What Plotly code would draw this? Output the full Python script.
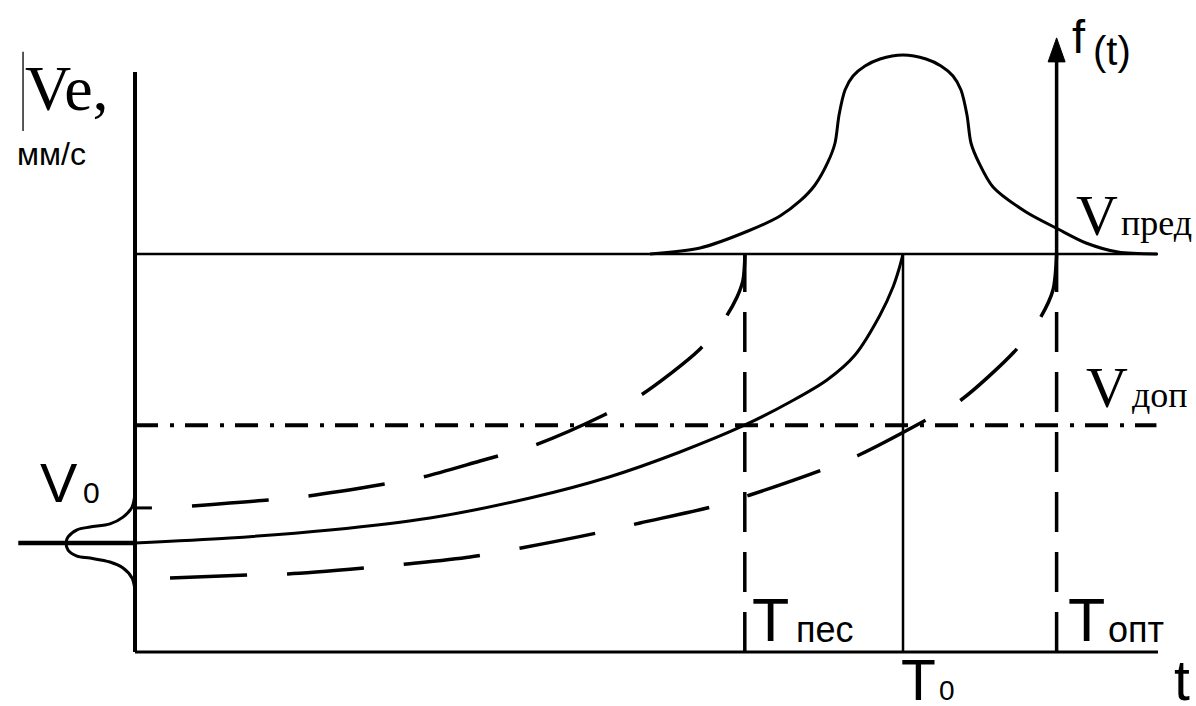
import plotly.graph_objects as go

# ---- coordinate frame (time t horizontally, vibration velocity Ve vertically) ----
T_RANGE = (-17.58, 138.15)
V_RANGE = (-13.57, 163.82)
W, H = 1196, 706
PX_T = W / (T_RANGE[1] - T_RANGE[0])   # pixels per unit of t
PX_V = H / (V_RANGE[1] - V_RANGE[0])   # pixels per unit of Ve

# ---- characteristic levels and moments ----
V_PRED = 100.0      # limiting level
V_DOP = 57.0        # permissible level
V_ZERO = 27.4       # initial level V0
V_TICK = 36.2       # upper bound of initial spread
T_PES = 79.4        # pessimistic life
T_ZERO = 100.0      # nominal life
T_OPT = 120.0       # optimistic life
T_END = 133.2       # right end of horizontal lines
T_START = -15.2     # left end of the V0 line
V_AXIS_TOP = 145.7
F_AXIS_TOP = 154.3

# ---- nominal trend Ve(t) ----
nominal_t = [0, 12.37, 25.39, 38.41, 51.43, 61.72, 70.96, 79.43, 85.29,
             90.10, 93.75, 97.01, 98.70, 99.48, 100.0]
nominal_v = [27.39, 28.64, 30.65, 33.67, 38.69, 43.97, 50.25, 57.04, 62.81,
             68.34, 74.62, 84.67, 91.71, 96.23, 100.0]

# ---- fast (pessimistic) trend ----
fast_t = [7.42, 17.32, 22.53, 32.55, 37.5, 44.92, 52.08, 61.07, 65.89, 73.44,
          76.69, 78.39, 79.17, 79.43]
fast_v = [36.68, 38.19, 39.2, 42.21, 43.97, 47.99, 52.01, 59.55, 64.57, 75.88,
          83.42, 89.2, 93.47, 100.0]

# ---- slow (optimistic) trend ----
slow_t = [4.56, 14.71, 19.92, 29.95, 35.42, 43.62, 50.26, 60.16, 65.76, 75.0,
          80.08, 89.45, 94.27, 103.0, 107.55, 114.45, 117.71, 119.53, 120.0]
slow_v = [18.59, 19.35, 19.6, 21.11, 22.11, 23.87, 26.13, 29.9, 32.41, 36.43,
          39.45, 45.73, 49.5, 58.29, 63.32, 75.38, 83.42, 90.95, 100.0]

# ---- life distribution density f(t), drawn above the limiting level ----
life_t = [67.06, 73.57, 79.82, 83.98, 86.59, 88.54, 90.23, 91.15, 91.67, 92.45,
          93.49, 95.05, 97.01, 100.0, 103.0, 104.95, 106.51, 107.55, 108.33,
          108.85, 109.9, 111.72, 116.02, 120.18, 123.83, 127.99, 133.07]
life_f = [0, 1.51, 5.78, 9.55, 13.32, 17.34, 23.12, 27.89, 34.92, 41.21,
          44.72, 47.24, 49.0, 50.0, 49.0, 47.24, 44.72, 41.21, 34.92,
          27.89, 22.86, 16.83, 10.55, 6.28, 2.76, 0.5, 0]

# ---- spread of the initial level V0 (density drawn to the left) ----
init_v = [39.9, 36.4, 33.9, 32.2, 31.4, 30.7, 28.9, 27.4, 25.6, 24.1, 23.6,
          22.6, 21.1, 18.6, 15.6]
init_f = [0, 0.39, 1.56, 3.26, 5.86, 7.55, 8.72, 8.98, 8.72, 7.55, 5.86,
          3.26, 1.56, 0.39, 0]

INK = "#000000"
fig = go.Figure()


def line(x, y, width, dash="solid", shape="linear", smoothing=None):
    ln = dict(color=INK, width=width, dash=dash, shape=shape)
    if smoothing is not None:
        ln["smoothing"] = smoothing
    fig.add_trace(go.Scatter(x=x, y=y, mode="lines", line=ln,
                             hoverinfo="skip", showlegend=False))


# axes
line([0, 0], [0, V_AXIS_TOP], 4)
line([0, T_END], [0, 0], 3)

# limiting and permissible levels
line([0, T_END], [V_PRED, V_PRED], 2.5)
line([0, 133.0], [V_DOP, V_DOP], 4, dash="23px,12px,4px,11px")

# life markers (drawn upward from the time axis)
line([T_PES, T_PES], [0, V_PRED], 3.5, dash="40px,20px")
line([T_OPT, T_OPT], [0, V_PRED], 3.5, dash="40px,20px")
line([T_ZERO, T_ZERO], [0, V_PRED], 2.5)

# f(t) axis with arrow head
arrow_h = 24 / PX_V
arrow_w = 8.5 / PX_T
line([T_OPT, T_OPT], [V_PRED, F_AXIS_TOP - arrow_h + 1 / PX_V], 3.5)
fig.add_trace(go.Scatter(
    x=[T_OPT - arrow_w, T_OPT, T_OPT + arrow_w, T_OPT - arrow_w],
    y=[F_AXIS_TOP - arrow_h, F_AXIS_TOP, F_AXIS_TOP - arrow_h, F_AXIS_TOP - arrow_h],
    mode="lines", fill="toself", fillcolor=INK, line=dict(color=INK, width=1),
    hoverinfo="skip", showlegend=False))

# initial level and its spread
line([T_START, 0], [V_ZERO, V_ZERO], 4.5)
line([0, 2.2], [V_TICK, V_TICK], 3)
line([-f for f in init_f], init_v, 3, shape="spline", smoothing=0.9)

# trends
line(nominal_t, nominal_v, 3, shape="spline", smoothing=0.9)
line(fast_t, fast_v, 3.5, dash="77px,40px", shape="spline", smoothing=0.8)
line(slow_t, slow_v, 3.5, dash="77px,40px", shape="spline", smoothing=0.8)

# life density
line(life_t, [V_PRED + f for f in life_f], 3, shape="spline", smoothing=0.8)

SANS = "Liberation Sans, Arial, sans-serif"
SERIF = "Liberation Serif, Times New Roman, serif"


def label(text, t, v, size, family):
    fig.add_annotation(x=t, y=v, text=text, showarrow=False, xanchor="left",
                       yanchor="middle", borderpad=0,
                       font=dict(family=family, size=size, color=INK))


label("Ve,", -14.4, 141.6, 64, SERIF)
label("мм/с", -15.5, 125.2, 32, SANS)
label("V", -12.5, 42.5, 56, SANS)
label("0", -6.95, 40.1, 30, SANS)
label("f", 121.9, 154.6, 47, SANS)
label("(t)", 124.6, 150.9, 40, SANS)
label("V", 122.4, 109.7, 58, SERIF)
label("пред", 128.3, 107.8, 36, SERIF)
label("V", 123.7, 66.5, 58, SERIF)
label("доп", 129.7, 64.6, 36, SERIF)
label("T", 80.2, 8.0, 61, SANS)
label("пес", 86.0, 5.7, 36, SANS)
label("T", 121.3, 8.0, 61, SANS)
label("опт", 126.5, 5.7, 36, SANS)
label("T", 99.6, -7.0, 57, SANS)
label("0", 104.6, -9.6, 28, SANS)
label("t", 135.2, -7.0, 57, SANS)

# thin bar in front of the axis caption
fig.add_shape(type="line", x0=-14.58, x1=-14.58, y0=130.9, y1=150.8,
              line=dict(color="#222222", width=1.5))

fig.update_layout(
    width=W, height=H,
    margin=dict(l=0, r=0, t=0, b=0),
    paper_bgcolor="white", plot_bgcolor="white",
    xaxis=dict(range=list(T_RANGE), visible=False, fixedrange=True),
    yaxis=dict(range=list(V_RANGE), visible=False, fixedrange=True),
    showlegend=False,
)

fig.write_html("out.html")
